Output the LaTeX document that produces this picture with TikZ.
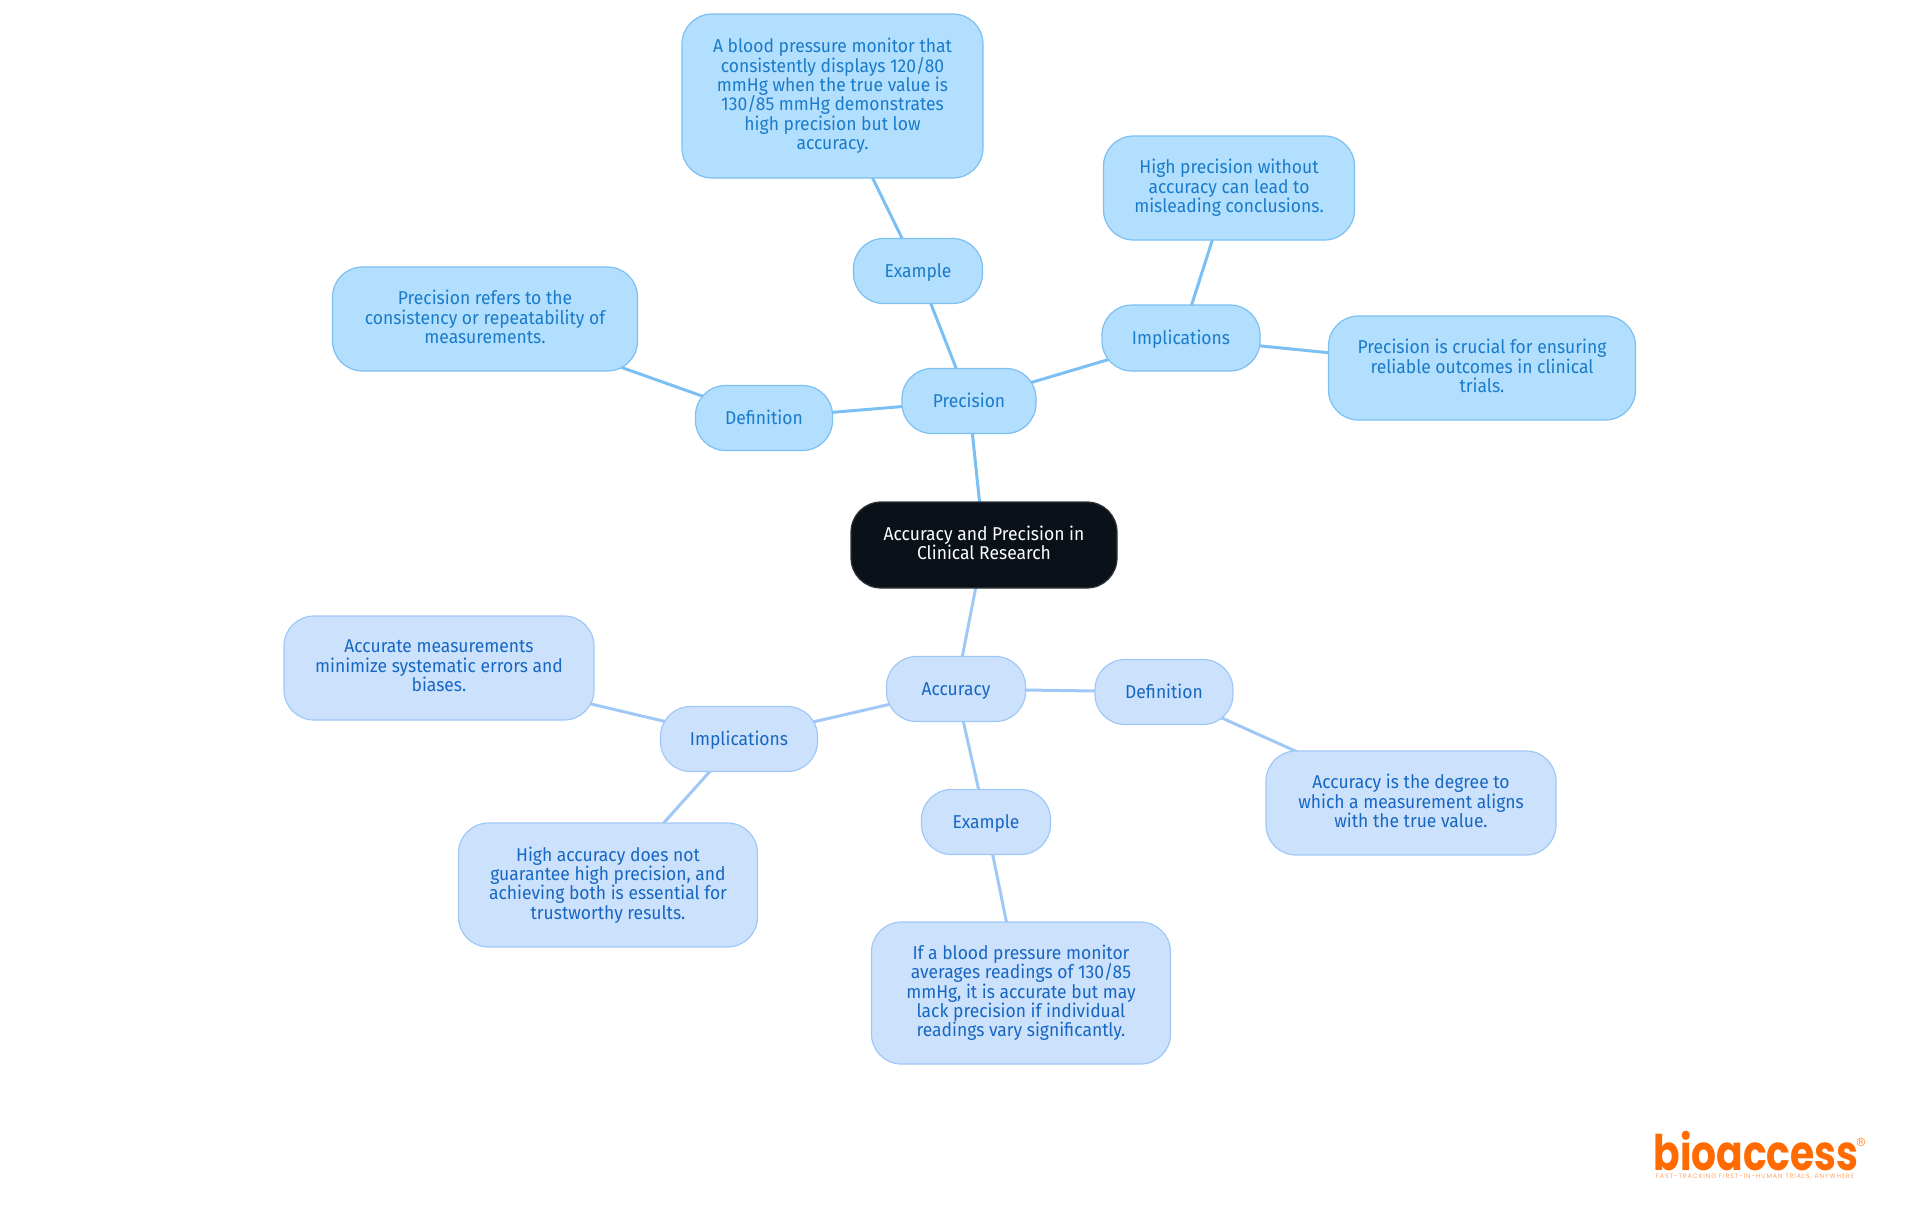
\documentclass[tikz,border=0pt]{standalone}
\usepackage{fontspec}
\setmainfont{Fira Sans}[FakeStretch=0.94]
\newfontfamily\logofont{Poppins}[BoldFont=* Bold, FakeStretch=0.8]
\newfontfamily\tagfont{Poppins}[LetterSpace=14]
\usetikzlibrary{backgrounds}
\definecolor{rootfill}{HTML}{0B1119}
\definecolor{precfill}{HTML}{B3DFFF}
\definecolor{precline}{HTML}{7CBFF2}
\definecolor{prectext}{HTML}{1A7BC9}
\definecolor{accfill}{HTML}{CCE2FC}
\definecolor{accline}{HTML}{A0C8F6}
\definecolor{acctext}{HTML}{1767C2}
\definecolor{logoorange}{HTML}{FF6B00}
\begin{document}
\begin{tikzpicture}[
  x=0.5pt, y=-0.5pt,
  block/.style={rectangle, draw, rounded corners=15pt, line width=0.6pt, align=center, inner sep=0pt, font=\fontsize{9.3}{9.68}\selectfont,
    execute at begin node={\rule{0pt}{8.2pt}}, execute at end node={\rule[-2.2pt]{0pt}{2.2pt}}},
  rootbox/.style={block, fill=rootfill, draw=rootfill!85!white, text=white},
  precbox/.style={block, fill=precfill, draw=precline, text=prectext},
  accbox/.style={block, fill=accfill, draw=accline, text=acctext},
  precedge/.style={draw=precline, line width=1.5pt},
  accedge/.style={draw=accline, line width=1.5pt}
]
\useasboundingbox (0,0) rectangle (1920,1215);

\node[rootbox, minimum width=133pt, minimum height=43pt] (root) at (984,545) {Accuracy and Precision in\\Clinical Research};

% Precision branch
\node[precbox, minimum width=67pt, minimum height=32.5pt] (prec) at (969,401) {Precision};
\node[precbox, minimum width=64.5pt, minimum height=32.5pt] (precex) at (918,271) {Example};
\node[precbox, minimum width=150.5pt, minimum height=82pt] (precextxt) at (832.5,96) {A blood pressure monitor that\\consistently displays 120/80\\mmHg when the true value is\\130/85 mmHg demonstrates\\high precision but low\\accuracy.};
\node[precbox, minimum width=79pt, minimum height=33pt] (precimp) at (1181,338) {Implications};
\node[precbox, minimum width=125.5pt, minimum height=52pt] (precimpa) at (1229,188) {High precision without\\accuracy can lead to\\misleading conclusions.};
\node[precbox, minimum width=153.5pt, minimum height=52pt] (precimpb) at (1482,368) {Precision is crucial for ensuring\\reliable outcomes in clinical\\trials.};
\node[precbox, minimum width=68.5pt, minimum height=32.5pt] (precdef) at (764,418) {Definition};
\node[precbox, minimum width=152.5pt, minimum height=52pt] (precdeftxt) at (485,319) {Precision refers to the\\consistency or repeatability of\\measurements.};

% Accuracy branch
\node[accbox, minimum width=69.5pt, minimum height=32.5pt] (acc) at (956,689) {Accuracy};
\node[accbox, minimum width=69pt, minimum height=32.5pt] (accdef) at (1164,692) {Definition};
\node[accbox, minimum width=145pt, minimum height=52pt] (accdeftxt) at (1411,803) {Accuracy is the degree to\\which a measurement aligns\\with the true value.};
\node[accbox, minimum width=64.5pt, minimum height=32.5pt] (accex) at (986,822) {Example};
\node[accbox, minimum width=149.5pt, minimum height=71pt] (accextxt) at (1021,993) {If a blood pressure monitor\\averages readings of 130/85\\mmHg, it is accurate but may\\lack precision if individual\\readings vary significantly.};
\node[accbox, minimum width=78.5pt, minimum height=32.5pt] (accimp) at (739,739) {Implications};
\node[accbox, minimum width=155pt, minimum height=52pt] (accimpa) at (439,668) {Accurate measurements\\minimize systematic errors and\\biases.};
\node[accbox, minimum width=149.5pt, minimum height=62pt] (accimpb) at (608,885) {High accuracy does not\\guarantee high precision, and\\achieving both is essential for\\trustworthy results.};

% Logo
\node[font=\logofont\bfseries\fontsize{24.5}{24.5}\selectfont, text=logoorange, inner sep=0pt] (logo) at (1756,1151) {bioaccess};
\node[font=\sffamily\fontsize{6}{6}\selectfont, text=logoorange, inner sep=0pt] (logoreg) at (1861,1142) {\textregistered};
\node[font=\tagfont\fontsize{3.2}{3.5}\selectfont, text=logoorange!60!white, inner sep=0pt] (logotag) at (1755,1177) {FAST-TRACKING FIRST-IN-HUMAN TRIALS, ANYWHERE};

% Connectors
\begin{scope}[on background layer]
\draw[precedge] (root.center) -- (prec.center);
\draw[precedge] (prec.center) -- (precex.center);
\draw[precedge] (precex.center) -- (precextxt.center);
\draw[precedge] (prec.center) -- (precimp.center);
\draw[precedge] (precimp.center) -- (precimpa.center);
\draw[precedge] (precimp.center) -- (precimpb.center);
\draw[precedge] (prec.center) -- (precdef.center);
\draw[precedge] (precdef.center) -- (precdeftxt.center);
\draw[accedge] (root.center) -- (acc.center);
\draw[accedge] (acc.center) -- (accdef.center);
\draw[accedge] (accdef.center) -- (accdeftxt.center);
\draw[accedge] (acc.center) -- (accex.center);
\draw[accedge] (accex.center) -- (accextxt.center);
\draw[accedge] (acc.center) -- (accimp.center);
\draw[accedge] (accimp.center) -- (accimpa.center);
\draw[accedge] (accimp.center) -- (accimpb.center);
\end{scope}
\end{tikzpicture}
\end{document}
